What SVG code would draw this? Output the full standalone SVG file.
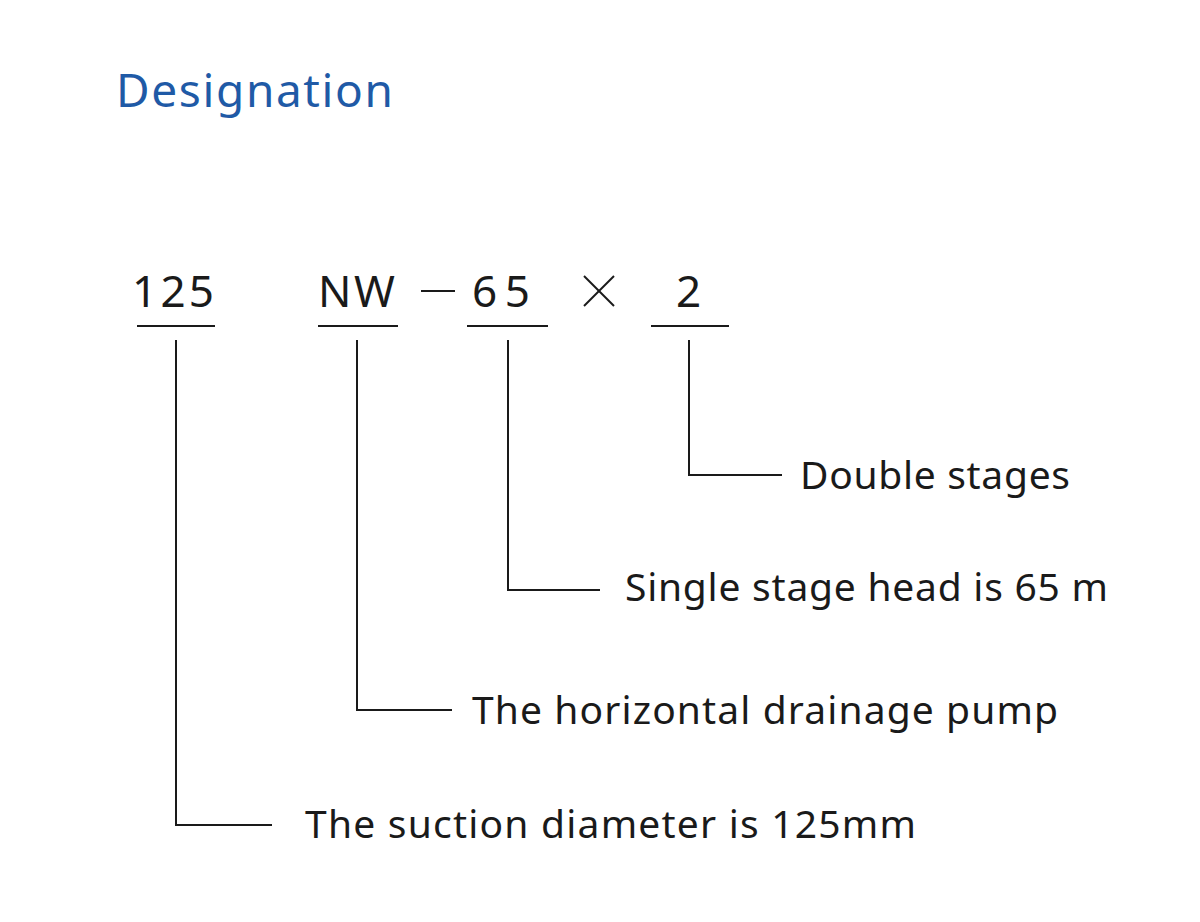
<svg xmlns="http://www.w3.org/2000/svg" width="1200" height="922" viewBox="0 0 1200 922">
<style>
text{font-family:"Noto Sans","Open Sans",sans-serif;fill:#1a1a1a}
.c{font-size:44px}
.l{font-size:39px}
line{stroke:#1a1a1a;stroke-width:2;fill:none}
polyline{stroke:#1a1a1a;stroke-width:2;fill:none}
</style>
<rect width="1200" height="922" fill="#fff"/>
<text x="116" y="107" textLength="277" style="font-size:46px;fill:#1f5aa6">Designation</text>
<g id="code">
<text class="c" x="132" y="307" textLength="82">125</text>
<text class="c" x="318" y="307" textLength="77">NW</text>
<line x1="421" y1="291" x2="455" y2="291"/>
<text class="c" x="472" y="307" textLength="58">65</text>
<line x1="584" y1="276" x2="614" y2="306"/><line x1="614" y1="276" x2="584" y2="306"/>
<text class="c" x="676" y="307">2</text>
<line x1="137" y1="326" x2="215" y2="326"/>
<line x1="318" y1="326" x2="398" y2="326"/>
<line x1="467" y1="326" x2="548" y2="326"/>
<line x1="651" y1="326" x2="729" y2="326"/>
</g>
<g id="connectors">
<polyline points="176,340 176,825 272,825"/>
<polyline points="357,340 357,710 452,710"/>
<polyline points="508,340 508,590 600,590"/>
<polyline points="689,340 689,475 782,475"/>
</g>
<g id="n1"><text class="l" x="800" y="489" textLength="270">Double stages</text></g>
<g id="n2"><text class="l" x="625" y="601" textLength="483">Single stage head is 65 m</text></g>
<g id="n3"><text class="l" x="472" y="724" textLength="586">The horizontal drainage pump</text></g>
<g id="n4"><text class="l" x="305" y="838" textLength="611">The suction diameter is 125mm</text></g>
</svg>
